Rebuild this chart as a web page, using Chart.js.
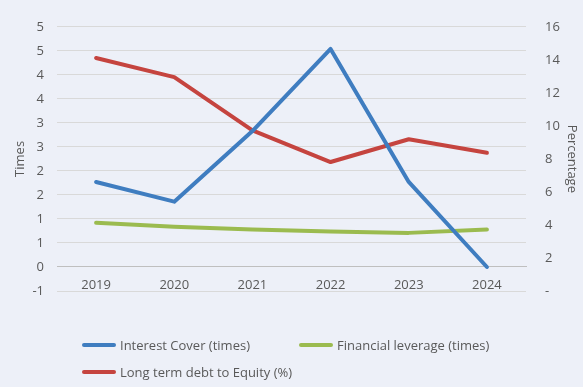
<!DOCTYPE html>
<html>
<head>
<meta charset="utf-8">
<script src="https://cdn.jsdelivr.net/npm/chart.js@4"></script>
<style>
  html, body { margin: 0; padding: 0; background: #edf0f8; }
  #wrap { position: relative; width: 583px; height: 387px; }
  #legend { position: absolute; left: 0; top: 0; width: 583px; height: 387px; pointer-events: none;
    font-family: "Open Sans", sans-serif; font-size: 13px; color: #595959; }
  .item { position: absolute; display: flex; align-items: center; white-space: nowrap; }
  .swatch { width: 34px; height: 4px; border-radius: 2px; margin-right: 4px; }
</style>
</head>
<body>
<div id="wrap">
  <canvas id="chart" width="583" height="387"></canvas>
  <div id="legend"></div>
</div>
<script>
const years = ['2019', '2020', '2021', '2022', '2023', '2024'];
const interestCover = [1.77, 1.36, 2.83, 4.54, 1.77, 0.0];
const financialLeverage = [0.92, 0.84, 0.78, 0.74, 0.71, 0.78];
const debtToEquity = [14.11, 12.95, 9.73, 7.81, 9.19, 8.37];

const textColor = '#595959';
const font = { family: '"Open Sans", sans-serif', size: 13 };

function lineSet(label, data, color, axis) {
  return {
    label, data, yAxisID: axis,
    borderColor: color, backgroundColor: color,
    borderWidth: 4, pointRadius: 0, tension: 0,
    borderCapStyle: 'round', borderJoinStyle: 'round'
  };
}

const datasets = [
  lineSet('Interest Cover (times)', interestCover, '#3f7dc0', 'y'),
  lineSet('Financial leverage (times)', financialLeverage, '#9bbb4f', 'y'),
  lineSet('Long term debt to Equity (%)', debtToEquity, '#c5443f', 'y2')
];

// Excel style rounding for 0-decimal labels (away from zero)
function roundLabel(v) {
  const r = Math.sign(v) * Math.round(Math.abs(v));
  return r === 0 ? '0' : String(r);
}

new Chart(document.getElementById('chart'), {
  type: 'line',
  data: { labels: years, datasets },
  options: {
    responsive: false,
    animation: false,
    layout: { padding: { top: 17, bottom: 96, left: 0, right: 0 } },
    plugins: { legend: { display: false }, tooltip: { enabled: false } },
    scales: {
      x: {
        position: { y: 0 },
        offset: true,
        grid: { display: false, drawTicks: false, offset: true },
        border: { display: true, color: '#bfbfbf', width: 1 },
        ticks: { color: textColor, font, padding: 11, maxRotation: 0 }
      },
      y: {
        position: 'left',
        min: -0.5, max: 5,
        afterFit: s => { s.width = 57; },
        grid: { color: '#d9d9d9', lineWidth: 1, drawTicks: false },
        border: { display: false },
        ticks: { stepSize: 0.5, color: textColor, font, padding: 13, callback: v => roundLabel(v) },
        title: { display: true, text: 'Times', color: textColor, font, padding: { top: 12, bottom: 0 } }
      },
      y2: {
        position: 'right',
        min: 0, max: 16,
        afterFit: s => { s.width = 57; },
        grid: { display: false, drawTicks: false },
        border: { display: false },
        ticks: { stepSize: 2, color: textColor, font, padding: 19, callback: v => v === 0 ? '-' : String(v) },
        title: { display: true, text: 'Percentage', color: textColor, font, padding: { top: 3, bottom: 0 } }
      }
    }
  }
});

// legend laid out like the source (two columns)
const legendPos = [[82, 345], [299, 345], [82, 372]];
const legendEl = document.getElementById('legend');
datasets.forEach((d, i) => {
  const it = document.createElement('div');
  it.className = 'item';
  it.style.left = legendPos[i][0] + 'px';
  it.style.top = (legendPos[i][1] - 9) + 'px';
  it.innerHTML = `<div class="swatch" style="background:${d.borderColor}"></div><span>${d.label}</span>`;
  legendEl.appendChild(it);
});
</script>
</body>
</html>
